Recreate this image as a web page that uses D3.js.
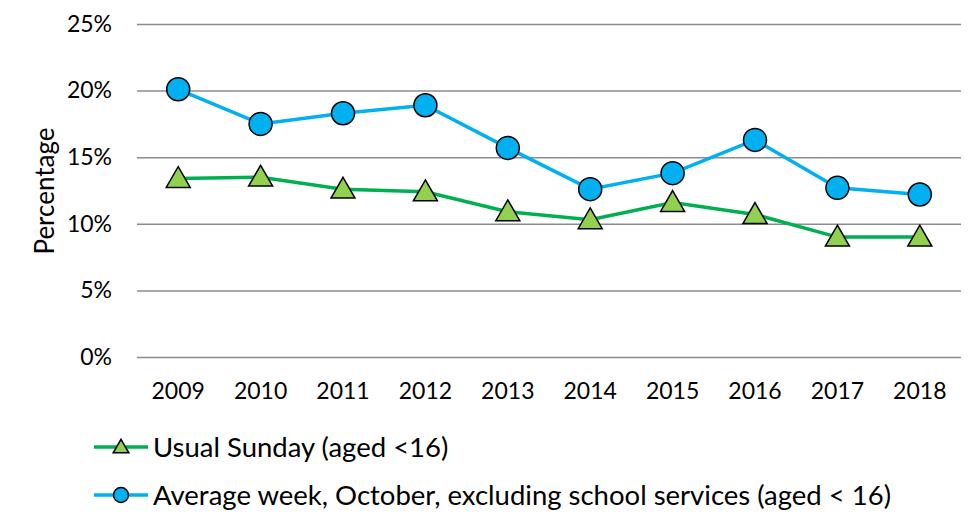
<!DOCTYPE html>
<html>
<head>
<meta charset="utf-8">
<script src="https://cdn.jsdelivr.net/npm/d3@7"></script>
<style>
  body { margin: 0; background: #fff; }
  text { font-family: Lato, "Open Sans", sans-serif; fill: #000; }
</style>
</head>
<body>
<div id="chart"></div>
<script>
// Data
const years = ["2009", "2010", "2011", "2012", "2013", "2014", "2015", "2016", "2017", "2018"];
const sundayValues = [13.4, 13.5, 12.6, 12.4, 10.9, 10.3, 11.6, 10.7, 9.0, 9.0];
const weekValues = [20.1, 17.5, 18.3, 18.9, 15.7, 12.6, 13.8, 16.3, 12.7, 12.2];
const yTicks = [0, 5, 10, 15, 20, 25];
const seriesNames = ["Usual Sunday (aged <16)", "Average week, October, excluding school services (aged < 16)"];

const W = 980, H = 515;
const margin = { top: 24, right: 19, bottom: 158, left: 137 };
const width = W - margin.left - margin.right,
  height = H - margin.top - margin.bottom;

const svg = d3.select("#chart").append("svg")
  .attr("width", W)
  .attr("height", H);

const g = svg.append("g")
  .attr("transform", `translate(${margin.left},${margin.top})`);

// Scales
const x = d3.scaleBand().domain(years).range([0, width]);
const y = d3.scaleLinear().domain([0, 25]).range([height, 0]);

// Grid lines
g.append("g")
  .call(d3.axisLeft(y).tickValues(yTicks).tickSize(-width).tickFormat(""))
  .call(a => a.select(".domain").remove())
  .selectAll("line")
  .attr("stroke", "#8c8c8c")
  .attr("stroke-width", 1.5);

// Y tick labels
g.append("g")
  .call(d3.axisLeft(y).tickValues(yTicks).tickSize(0).tickPadding(25).tickFormat(d => d + "%"))
  .call(a => a.select(".domain").remove())
  .selectAll("text")
  .style("font-size", "23px");

// X tick labels
g.append("g")
  .attr("transform", `translate(0,${height})`)
  .call(d3.axisBottom(x).tickSize(0).tickPadding(26))
  .call(a => a.select(".domain").remove())
  .selectAll("text")
  .style("font-size", "23px");

// Y title
svg.append("text")
  .attr("transform", "rotate(-90)")
  .attr("x", -191)
  .attr("y", 54)
  .attr("text-anchor", "middle")
  .style("font-size", "26px")
  .text("Percentage");

const cx = d => x(d) + x.bandwidth() / 2;
const triangle = d3.symbol().type(d3.symbolTriangle).size(250);

const series = [
  { name: seriesNames[0], values: sundayValues, color: "#00b050", fill: "#92d050", shape: "triangle" },
  { name: seriesNames[1], values: weekValues, color: "#00b0f0", fill: "#00b0f0", shape: "circle" }
];

function drawMarker(sel, s, k) {
  if (s.shape === "circle") {
    sel.append("circle").attr("r", 11.5 * k)
      .attr("fill", s.fill).attr("stroke", "#000").attr("stroke-width", 1.5);
  } else {
    sel.append("path").attr("d", triangle.size(250 * k * k)).attr("transform", `translate(0,${2 * k})`)
      .attr("fill", s.fill).attr("stroke", "#000").attr("stroke-width", 1.5);
  }
}

const line = d3.line()
  .x((d, i) => cx(years[i]))
  .y(d => y(d));

series.forEach(s => {
  g.append("path")
    .datum(s.values)
    .attr("fill", "none")
    .attr("stroke", s.color)
    .attr("stroke-width", 3.5)
    .attr("d", line);

  g.selectAll(null)
    .data(s.values)
    .join("g")
    .attr("transform", (d, i) => `translate(${cx(years[i])},${y(d)})`)
    .each(function() { drawMarker(d3.select(this), s, 1); });
});

// Legend
const legend = svg.append("g").attr("transform", "translate(94,447)");
series.forEach((s, i) => {
  const row = legend.append("g").attr("transform", `translate(0, ${i * 48})`);
  row.append("line")
    .attr("x1", 0).attr("x2", 54)
    .attr("stroke", s.color).attr("stroke-width", 3.5);
  const m = row.append("g").attr("transform", "translate(27,0)");
  drawMarker(m, s, 0.65);
  row.append("text")
    .attr("x", 59)
    .attr("dy", "0.35em")
    .style("font-size", "27.5px")
    .text(s.name);
});
</script>
</body>
</html>
